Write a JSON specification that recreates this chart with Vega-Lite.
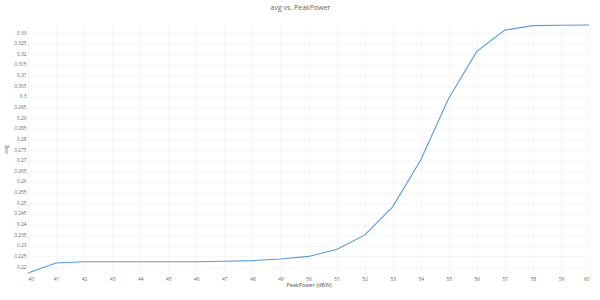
{
  "$schema": "https://vega.github.io/schema/vega-lite/v6.json",
  "width": 561,
  "height": 248,
  "autosize": {"type": "none"},
  "padding": {"left": 28, "top": 25, "right": 11, "bottom": 27},
  "background": "white",
  "title": {"text": "avg vs. PeakPower", "fontSize": 7, "font": "Open Sans", "fontWeight": "normal", "color": "#666", "anchor": "middle", "offset": 12, "dx": -8},
  "config": {"view": {"stroke": null}},
  "data": {"values": [
    {"PeakPower": 40, "avg": 0.2172},
    {"PeakPower": 41, "avg": 0.2219},
    {"PeakPower": 42, "avg": 0.2225},
    {"PeakPower": 43, "avg": 0.2225},
    {"PeakPower": 44, "avg": 0.2225},
    {"PeakPower": 45, "avg": 0.2225},
    {"PeakPower": 46, "avg": 0.2225},
    {"PeakPower": 47, "avg": 0.2227},
    {"PeakPower": 48, "avg": 0.2230},
    {"PeakPower": 49, "avg": 0.2238},
    {"PeakPower": 50, "avg": 0.2250},
    {"PeakPower": 51, "avg": 0.2282},
    {"PeakPower": 52, "avg": 0.2350},
    {"PeakPower": 53, "avg": 0.2483},
    {"PeakPower": 54, "avg": 0.2703},
    {"PeakPower": 55, "avg": 0.2994},
    {"PeakPower": 56, "avg": 0.3214},
    {"PeakPower": 57, "avg": 0.3314},
    {"PeakPower": 58, "avg": 0.3335},
    {"PeakPower": 59, "avg": 0.3337},
    {"PeakPower": 60, "avg": 0.3338}
  ]},
  "mark": {"type": "line", "color": "#5b9bd5", "strokeWidth": 1.1},
  "encoding": {
    "x": {
      "field": "PeakPower", "type": "quantitative",
      "scale": {"domain": [40, 60], "nice": false, "zero": false},
      "axis": {
        "title": "PeakPower (dBW)", "values": [40,41,42,43,44,45,46,47,48,49,50,51,52,53,54,55,56,57,58,59,60],
        "format": "d", "domain": false, "ticks": false, "labelFontSize": 4.8, "labelColor": "#666", "labelFont": "Open Sans",
        "labelPadding": 3, "gridColor": "#f0f0f0", "gridWidth": 0.6,
        "titleFontSize": 5.5, "titleFontWeight": "normal", "titleColor": "#555", "titleFont": "Open Sans", "titlePadding": 2
      }
    },
    "y": {
      "field": "avg", "type": "quantitative",
      "scale": {"domain": [0.2172, 0.3338], "nice": false, "zero": false},
      "axis": {
        "title": "avg", "values": [0.22,0.225,0.23,0.235,0.24,0.245,0.25,0.255,0.26,0.265,0.27,0.275,0.28,0.285,0.29,0.295,0.3,0.305,0.31,0.315,0.32,0.325,0.33],
        "format": ".3~f", "domain": false, "ticks": false, "labelFontSize": 4.8, "labelColor": "#666", "labelFont": "Open Sans",
        "labelPadding": 2, "gridColor": "#f0f0f0", "gridWidth": 0.6,
        "titleFontSize": 5.5, "titleFontWeight": "normal", "titleColor": "#555", "titleFont": "Open Sans", "titlePadding": 5
      }
    }
  }
}
